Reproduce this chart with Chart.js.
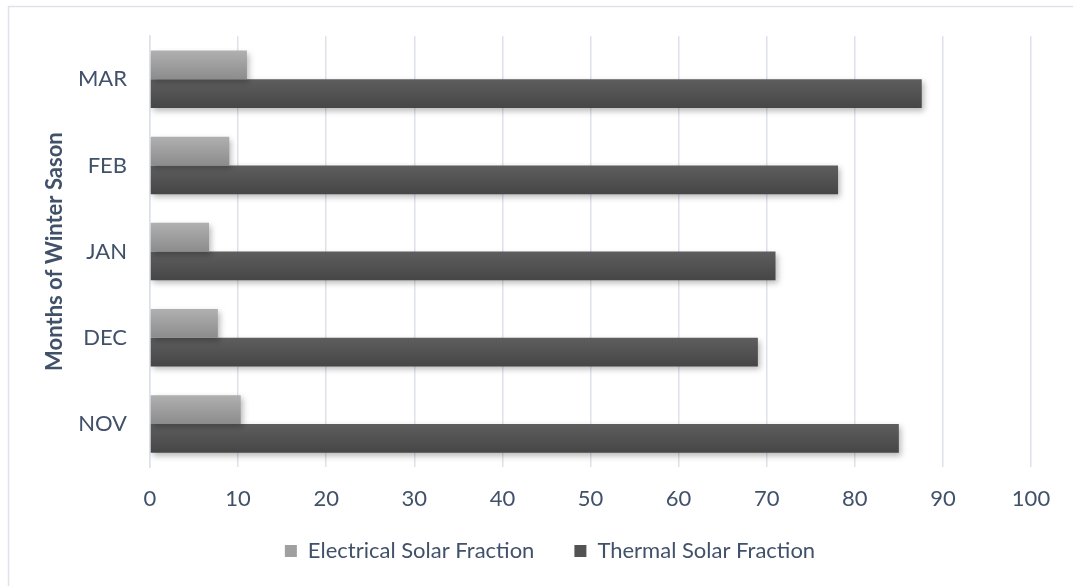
<!DOCTYPE html>
<html>
<head>
<meta charset="utf-8">
<title>Solar Fraction by Month</title>
<script src="https://cdn.jsdelivr.net/npm/chart.js@4/dist/chart.umd.min.js"></script>
<style>
  html, body { margin: 0; padding: 0; background: #ffffff; }
  #wrap { position: relative; width: 1073px; height: 586px; }
</style>
</head>
<body>
<div id="wrap"><canvas id="chart"></canvas></div>
<script>
// Months of the winter season, listed top to bottom
const months = ['MAR', 'FEB', 'JAN', 'DEC', 'NOV'];

// Solar fraction (%) per month
const electricalFraction = [11.0, 9.0, 6.7, 7.7, 10.3];
const thermalFraction = [87.6, 78.1, 71.0, 69.0, 85.0];

const seriesNames = ['Electrical Solar Fraction', 'Thermal Solar Fraction'];
const axisTitle = 'Months of Winter Sason';

const TEXT = '#41516a';
const GRID = '#dde2ea';
const FONT = 'Lato, "Liberation Sans", sans-serif';
const FONT_SIZE = 22;
const CAT_PCT = 0.667;

// Vertical gradient stops for each series (top, bottom)
const shades = [
  ['#b0b0b0', '#8c8c8c'],
  ['#5e5e5e', '#464646']
];
const legendFill = ['#a0a0a0', '#535353'];

// Builds a top-to-bottom gradient spanning the bar of the given series
function barFill(ctx, series) {
  const chart = ctx.chart;
  const ys = chart.scales && chart.scales.y;
  if (ctx.type !== 'data' || !ys || !ys.height) return legendFill[series];
  const center = ys.getPixelForValue(ctx.dataIndex);
  const thick = ys.height / months.length * CAT_PCT / 2;
  const top = series === 0 ? center - thick : center;
  const g = chart.ctx.createLinearGradient(0, top, 0, top + thick);
  g.addColorStop(0, shades[series][0]);
  g.addColorStop(1, shades[series][1]);
  return g;
}

// Soft drop shadow under the bars
const barShadow = {
  id: 'barShadow',
  beforeDatasetDraw(chart) {
    const c = chart.ctx;
    c.save();
    c.shadowColor = 'rgba(0,0,0,0.28)';
    c.shadowBlur = 6;
    c.shadowOffsetX = 2;
    c.shadowOffsetY = 3;
  },
  afterDatasetDraw(chart) {
    chart.ctx.restore();
  }
};

// Thin frame along the top and left edges of the chart
const frame = {
  id: 'frame',
  beforeDraw(chart) {
    const c = chart.ctx;
    c.save();
    c.strokeStyle = '#dfe3e8';
    c.lineWidth = 1.5;
    c.beginPath();
    c.moveTo(8.5, chart.height + 2);
    c.lineTo(8.5, 6.5);
    c.lineTo(chart.width + 2, 6.5);
    c.stroke();
    c.restore();
  }
};

// Pulls the legend a little closer to the axis and centres it under the plot
const legendOffset = {
  id: 'legendOffset',
  afterLayout(chart) {
    const l = chart.legend;
    if (!l) return;
    l.top -= 13;
    l.bottom -= 13;
    l.left += 15;
    l.right += 15;
  }
};

new Chart(document.getElementById('chart'), {
  type: 'bar',
  data: {
    labels: months,
    datasets: [
      {
        label: seriesNames[0],
        data: electricalFraction,
        backgroundColor: (ctx) => barFill(ctx, 0),
        categoryPercentage: CAT_PCT,
        barPercentage: 1.0
      },
      {
        label: seriesNames[1],
        data: thermalFraction,
        backgroundColor: (ctx) => barFill(ctx, 1),
        categoryPercentage: CAT_PCT,
        barPercentage: 1.0
      }
    ]
  },
  options: {
    indexAxis: 'y',
    responsive: true,
    maintainAspectRatio: false,
    animation: false,
    events: [],
    layout: { padding: { left: 39, top: 36, right: 42, bottom: 1 } },
    font: { family: FONT, size: FONT_SIZE },
    scales: {
      x: {
        min: 0,
        max: 100,
        ticks: { stepSize: 10, color: TEXT, padding: 19, font: { family: FONT, size: FONT_SIZE } },
        grid: { color: GRID, lineWidth: 1.5, drawTicks: false },
        border: { display: false },
        afterFit(scale) { scale.height = 46; }
      },
      y: {
        ticks: { color: TEXT, padding: 23, font: { family: FONT, size: FONT_SIZE } },
        grid: { display: false, drawTicks: false },
        border: { display: true, color: GRID, width: 1.5 },
        title: {
          display: true,
          text: axisTitle,
          color: TEXT,
          font: { family: FONT, size: FONT_SIZE, weight: 'bold' },
          padding: { top: 3, bottom: 4 }
        },
        afterFit(scale) { scale.width = 111; }
      }
    },
    plugins: {
      tooltip: { enabled: false },
      legend: {
        position: 'bottom',
        labels: {
          color: TEXT,
          font: { family: FONT, size: FONT_SIZE },
          boxWidth: 12,
          boxHeight: 12,
          padding: 40,
          generateLabels(chart) {
            return chart.data.datasets.map((ds, i) => ({
              text: ds.label,
              fillStyle: legendFill[i],
              strokeStyle: legendFill[i],
              lineWidth: 0,
              fontColor: TEXT,
              datasetIndex: i,
              hidden: false
            }));
          }
        }
      }
    }
  },
  plugins: [frame, barShadow, legendOffset]
});
</script>
</body>
</html>
